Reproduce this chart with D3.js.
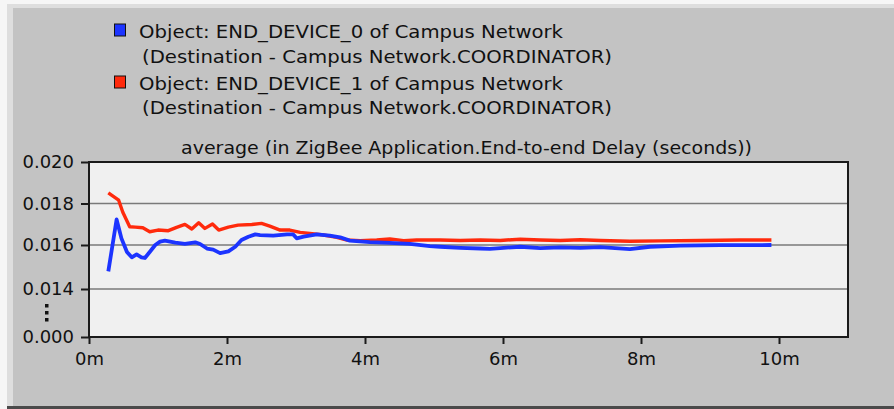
<!DOCTYPE html>
<html>
<head>
<meta charset="utf-8">
<script src="https://cdn.jsdelivr.net/npm/d3@7"></script>
<style>
  html, body { margin: 0; padding: 0; background: #ffffff; }
  svg { display: block; }
  text { font-family: "DejaVu Sans", Verdana, sans-serif; fill: #111; }
</style>
</head>
<body>
<svg id="chart" width="894" height="409"></svg>
<script>
// ---- data (minutes, seconds) ----
const seriesNames = [
  ["Object: END_DEVICE_0 of Campus Network", "(Destination - Campus Network.COORDINATOR)"],
  ["Object: END_DEVICE_1 of Campus Network", "(Destination - Campus Network.COORDINATOR)"]
];
const seriesColors = ["#1c34ff", "#ff2a0c"];
const chartTitle = "average (in ZigBee Application.End-to-end Delay (seconds))";
const xTickValues = [0, 2, 4, 6, 8, 10];
const xTickLabels = ["0m", "2m", "4m", "6m", "8m", "10m"];
const yTickValues = [0.000, 0.014, 0.016, 0.018, 0.020];
const yTickLabels = ["0.000", "0.014", "0.016", "0.018", "0.020"];
const yGridValues = [0.014, 0.016, 0.018];

const blueTimes = [0.28, 0.40, 0.47, 0.55, 0.62, 0.69, 0.76, 0.81, 0.88, 0.96, 1.03, 1.10, 1.25, 1.39, 1.54, 1.61, 1.71, 1.80, 1.90, 2.02, 2.12, 2.21, 2.31, 2.41, 2.48, 2.67, 2.87, 2.96, 3.01, 3.11, 3.30, 3.49, 3.64, 3.78, 4.07, 4.36, 4.65, 4.94, 5.09, 5.38, 5.67, 5.81, 5.96, 6.25, 6.54, 6.83, 7.12, 7.41, 7.84, 8.13, 8.57, 9.15, 9.89];
const blueValues = [0.01480, 0.01723, 0.01632, 0.01568, 0.01544, 0.01557, 0.01544, 0.01541, 0.01568, 0.01600, 0.01616, 0.01621, 0.01611, 0.01605, 0.01613, 0.01605, 0.01584, 0.01579, 0.01563, 0.01571, 0.01592, 0.01624, 0.01640, 0.01651, 0.01648, 0.01645, 0.01651, 0.01651, 0.01632, 0.01640, 0.01651, 0.01645, 0.01637, 0.01621, 0.01614, 0.01610, 0.01605, 0.01595, 0.01592, 0.01587, 0.01584, 0.01582, 0.01586, 0.01592, 0.01586, 0.01589, 0.01587, 0.01590, 0.01581, 0.01592, 0.01597, 0.01599, 0.01600];

const redTimes = [0.28, 0.43, 0.49, 0.59, 0.67, 0.78, 0.88, 1.00, 1.15, 1.27, 1.39, 1.49, 1.59, 1.68, 1.79, 1.88, 2.02, 2.16, 2.36, 2.50, 2.62, 2.77, 2.91, 3.06, 3.20, 3.40, 3.59, 3.74, 3.93, 4.17, 4.36, 4.56, 4.75, 5.09, 5.38, 5.67, 5.96, 6.25, 6.54, 6.83, 7.12, 7.41, 7.84, 8.28, 8.86, 9.44, 9.89];
const redValues = [0.01851, 0.01816, 0.01758, 0.01688, 0.01686, 0.01683, 0.01664, 0.01672, 0.01669, 0.01685, 0.01699, 0.01677, 0.01707, 0.01680, 0.01701, 0.01672, 0.01686, 0.01696, 0.01699, 0.01704, 0.01691, 0.01672, 0.01672, 0.01661, 0.01656, 0.01648, 0.01637, 0.01624, 0.01621, 0.01624, 0.01629, 0.01621, 0.01624, 0.01624, 0.01622, 0.01624, 0.01622, 0.01628, 0.01624, 0.01622, 0.01625, 0.01622, 0.01618, 0.01620, 0.01622, 0.01624, 0.01624];

const W = 894, H = 409;
const plot = { left: 89, right: 848, top: 162, bottom: 337 };

const svg = d3.select("#chart");

// ---- window frame ----
svg.append("rect").attr("x", 0).attr("y", 0).attr("width", W).attr("height", H).attr("fill", "#f6f6f6");
svg.append("rect").attr("x", 7).attr("y", 4).attr("width", W - 7).attr("height", H - 4).attr("fill", "#dedede");
svg.append("rect").attr("x", 13).attr("y", 8).attr("width", W - 13).attr("height", H - 8).attr("fill", "#c3c3c3");
svg.append("rect").attr("x", 7).attr("y", 406).attr("width", W - 7).attr("height", 3).attr("fill", "#4a4a4a");

// ---- scales ----
const x = d3.scaleLinear().domain([0, 11]).range([plot.left, plot.right]);
const y = d3.scaleLinear().domain([0, 0.014, 0.016, 0.020]).range([plot.bottom, 289, 245, plot.top]);

// plot background
svg.append("rect")
  .attr("x", plot.left).attr("y", plot.top)
  .attr("width", plot.right - plot.left).attr("height", plot.bottom - plot.top)
  .attr("fill", "#f0f0f0");

// gridlines
svg.append("g").selectAll("line").data(yGridValues).join("line")
  .attr("x1", plot.left).attr("x2", plot.right)
  .attr("y1", d => y(d)).attr("y2", d => y(d))
  .attr("stroke", "#7a7a7a").attr("stroke-width", 1.5);

// ---- series lines ----
const line = d3.line().x(d => x(d[0])).y(d => y(d[1]));
const redData = redTimes.map((t, i) => [t, redValues[i]]);
const blueData = blueTimes.map((t, i) => [t, blueValues[i]]);
svg.append("path").datum(redData).attr("d", line)
  .attr("fill", "none").attr("stroke", seriesColors[1]).attr("stroke-width", 3.4)
  .attr("stroke-linejoin", "round").attr("stroke-linecap", "butt");
svg.append("path").datum(blueData).attr("d", line)
  .attr("fill", "none").attr("stroke", seriesColors[0]).attr("stroke-width", 3.8)
  .attr("stroke-linejoin", "round").attr("stroke-linecap", "butt");

// plot frame
svg.append("rect")
  .attr("x", plot.left).attr("y", plot.top)
  .attr("width", plot.right - plot.left).attr("height", plot.bottom - plot.top)
  .attr("fill", "none").attr("stroke", "#1a1a1a").attr("stroke-width", 2);

// ---- axes ----
const xAxis = d3.axisBottom(x).tickValues(xTickValues)
  .tickFormat((d, i) => xTickLabels[i]).tickSize(7).tickPadding(8);
const gx = svg.append("g").attr("transform", `translate(0,${plot.bottom})`).call(xAxis);
gx.select(".domain").remove();
gx.selectAll(".tick line").attr("stroke", "#1a1a1a").attr("stroke-width", 2);
gx.selectAll(".tick text").attr("font-size", 18).attr("fill", "#111")
  .attr("font-family", "DejaVu Sans, sans-serif");

const yAxis = d3.axisLeft(y).tickValues(yTickValues)
  .tickFormat((d, i) => yTickLabels[i]).tickSize(8).tickPadding(7);
const gy = svg.append("g").attr("transform", `translate(${plot.left},0)`).call(yAxis);
gy.select(".domain").remove();
gy.selectAll(".tick line").attr("stroke", "#1a1a1a").attr("stroke-width", 2);
gy.selectAll(".tick text").attr("font-size", 18).attr("fill", "#111")
  .attr("font-family", "DejaVu Sans, sans-serif");

// axis break marker (vertical dots)
svg.append("g").selectAll("rect").data([0, 1, 2]).join("rect")
  .attr("x", 45).attr("y", d => 304 + d * 7).attr("width", 3.5).attr("height", 3.5)
  .attr("fill", "#111");

// ---- title ----
svg.append("text")
  .attr("x", 181).attr("y", 154)
  .attr("font-size", 17)
  .attr("textLength", 571).attr("lengthAdjust", "spacingAndGlyphs")
  .text(chartTitle);

// ---- legend ----
const legendRows = [
  { sq: 24, base: 37.5, base2: 63 },
  { sq: 76, base: 89.5, base2: 114 }
];
legendRows.forEach((r, i) => {
  svg.append("rect").attr("x", 114.5).attr("y", r.sq).attr("width", 11).attr("height", 12)
    .attr("fill", seriesColors[i]).attr("stroke", "#111").attr("stroke-width", 1);
  svg.append("text").attr("x", 139).attr("y", r.base).attr("font-size", 17)
    .attr("textLength", 424).attr("lengthAdjust", "spacingAndGlyphs")
    .text(seriesNames[i][0]);
  svg.append("text").attr("x", 142).attr("y", r.base2).attr("font-size", 17)
    .attr("textLength", 470).attr("lengthAdjust", "spacingAndGlyphs")
    .text(seriesNames[i][1]);
});
</script>
</body>
</html>
